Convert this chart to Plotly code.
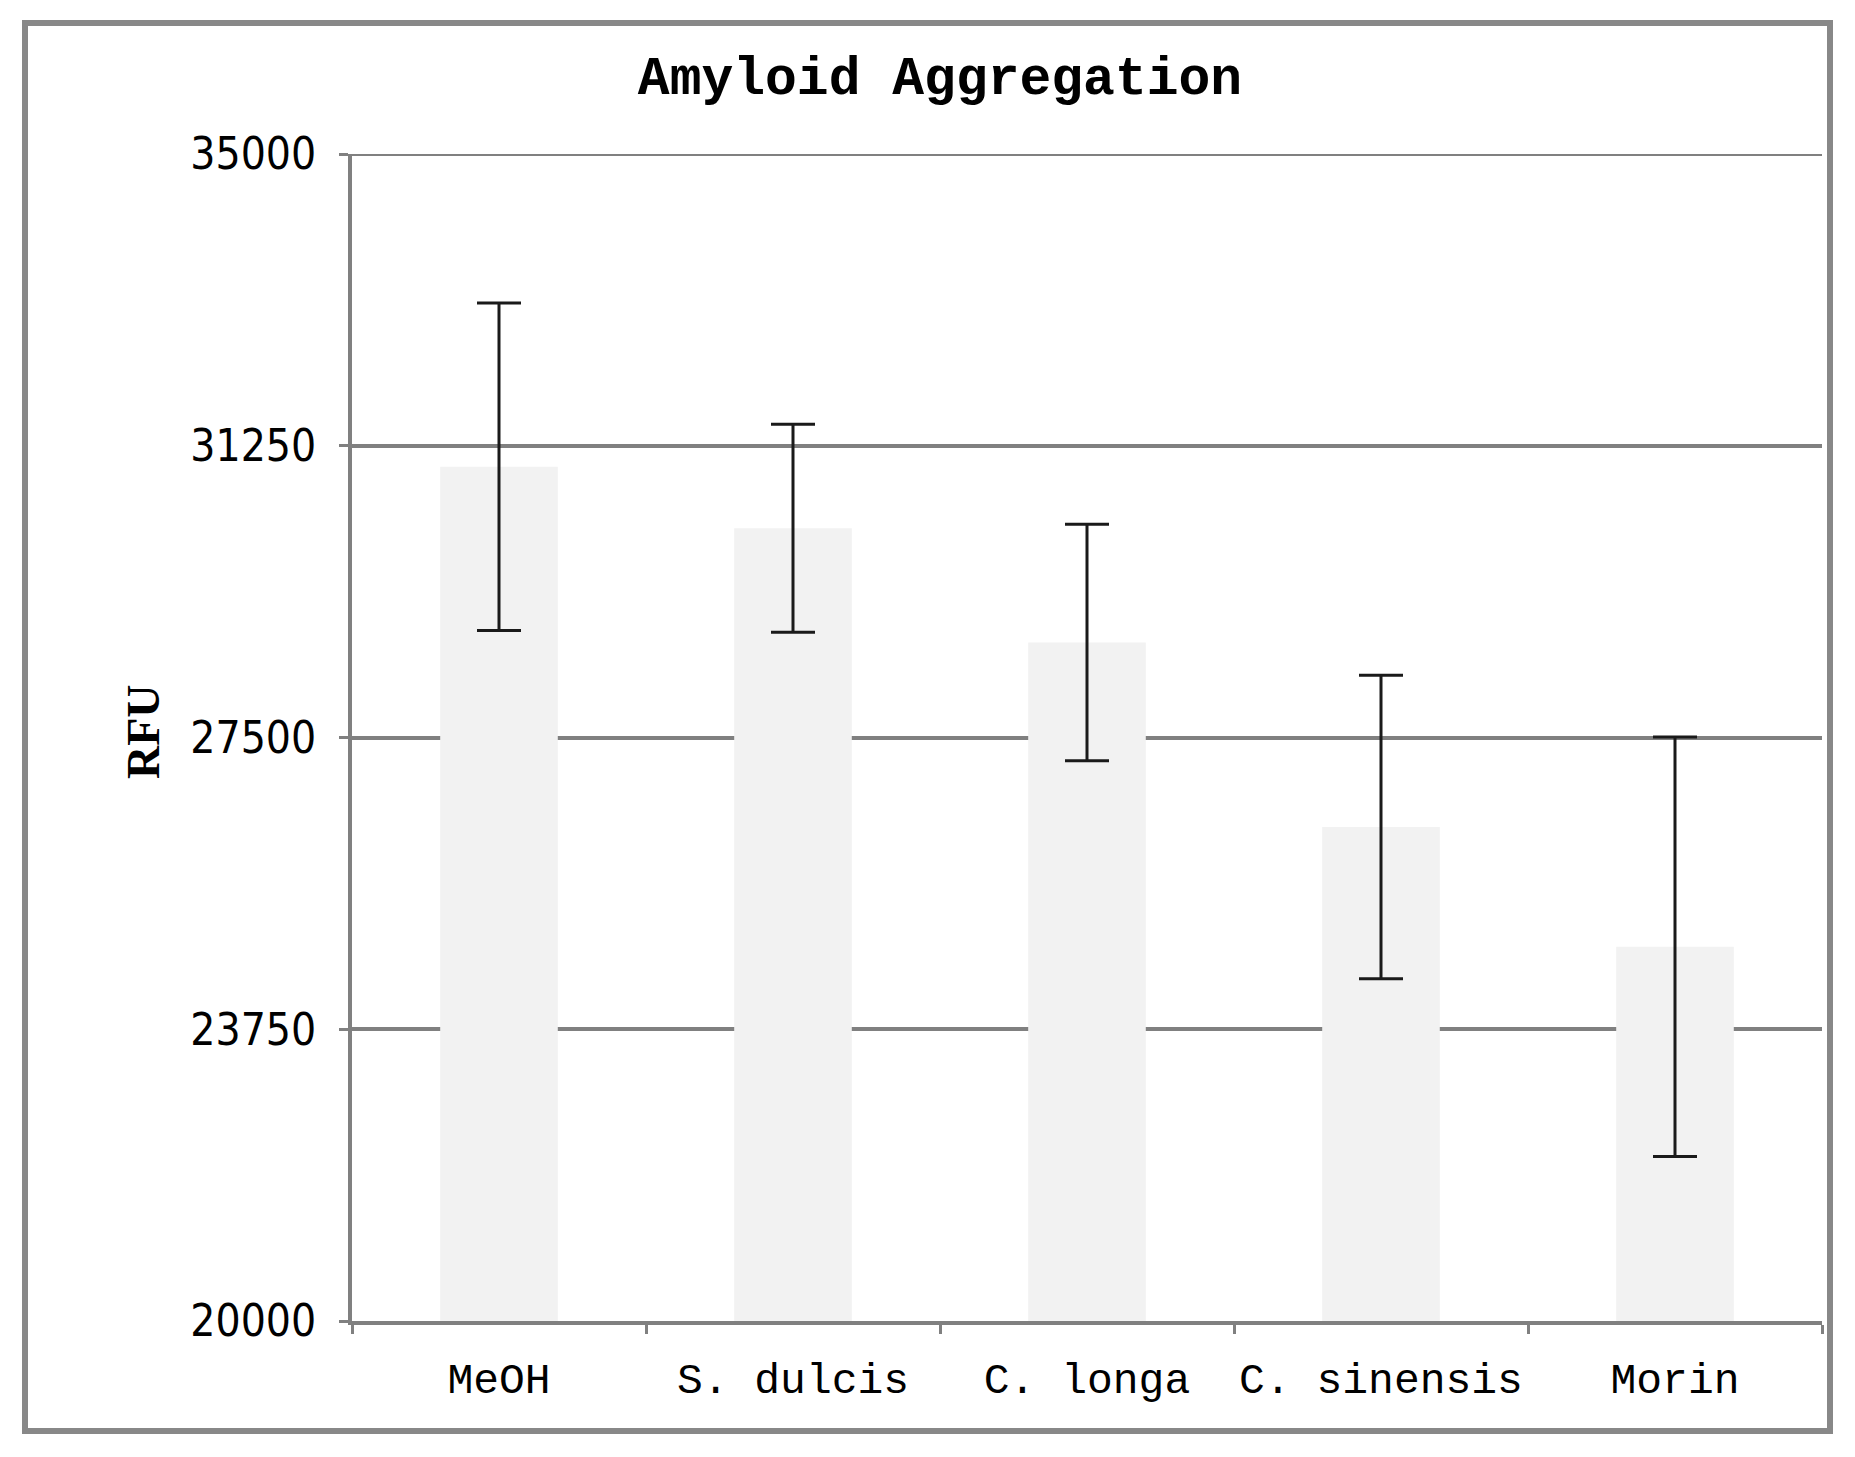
import plotly.graph_objects as go

categories = ["MeOH", "S. dulcis", "C. longa", "C. sinensis", "Morin"]
rfu_mean = [30980, 30190, 28720, 26350, 24810]
rfu_err = [2105, 1337, 1520, 1950, 2695]
y_ticks = [20000, 23750, 27500, 31250, 35000]
y_tick_labels = ["20000", "23750", "27500", "31250", "35000"]

W, H = 1855, 1457
OFF = 8  # page body margin compensation
L, R, T, B = 352 - OFF, 33 + OFF, 154 - OFF, 136 + OFF
pw, ph = W - L - R, H - T - B

def px_x(x):
    return (x - OFF - L) / pw

def px_y(y):
    return (H - B - (y - OFF)) / ph

fig = go.Figure()
fig.add_trace(go.Bar(
    x=categories,
    y=rfu_mean,
    marker=dict(color="#f2f2f2", line=dict(width=0)),
    width=0.4,
    error_y=dict(type="data", array=rfu_err, visible=True,
                 color="#1a1a1a", thickness=3, width=22),
    showlegend=False,
))

fig.update_layout(
    width=W, height=H,
    margin=dict(l=L, r=R, t=T, b=B),
    paper_bgcolor="white",
    plot_bgcolor="white",
    title=dict(text="Amyloid Aggregation", x=(940 - OFF) / W, y=1 - (75 - OFF) / H,
               xanchor="center", yanchor="middle",
               font=dict(family="Liberation Mono, Courier New, monospace",
                         size=53, color="black", weight="bold")),
    xaxis=dict(
        showline=True, linecolor="#808080", linewidth=4,
        ticks="outside", tickson="boundaries", ticklen=9,
        tickcolor="#808080", tickwidth=3,
        showgrid=False, tickangle=0, automargin=False,
        tickfont=dict(family="Liberation Mono, Courier New, monospace",
                      size=43, color="black"),
        ticklabelstandoff=16,
    ),
    yaxis=dict(
        range=[20000, 35000], automargin=False,
        tickvals=y_ticks, ticktext=y_tick_labels,
        showline=True, linecolor="#808080", linewidth=4,
        ticks="outside", ticklen=9, tickcolor="#808080", tickwidth=3,
        showgrid=True, gridcolor="#808080", gridwidth=3.5,
        zeroline=False,
        tickfont=dict(family="Liberation Sans Narrow, Arial Narrow, DejaVu Sans Condensed, sans-serif",
                      size=44, color="black"),
        ticklabelstandoff=14,
    ),
    annotations=[dict(
        text="RFU", textangle=-90, xref="paper", yref="paper",
        x=px_x(143.5), y=px_y(731.5), xanchor="center", yanchor="middle",
        showarrow=False,
        font=dict(family="Liberation Serif, Times New Roman, serif",
                  size=46, color="black", weight="bold"),
    )],
    shapes=[
        dict(type="rect", xref="paper", yref="paper",
             x0=px_x(25), x1=px_x(1830), y0=px_y(1431), y1=px_y(23),
             line=dict(color="#888888", width=6), fillcolor="rgba(0,0,0,0)"),
        dict(type="line", xref="paper", yref="y", layer="below",
             x0=0, x1=1, y0=y_ticks[-1], y1=y_ticks[-1],
             line=dict(color="#808080", width=4)),
    ],
)

fig.write_html("out.html")
